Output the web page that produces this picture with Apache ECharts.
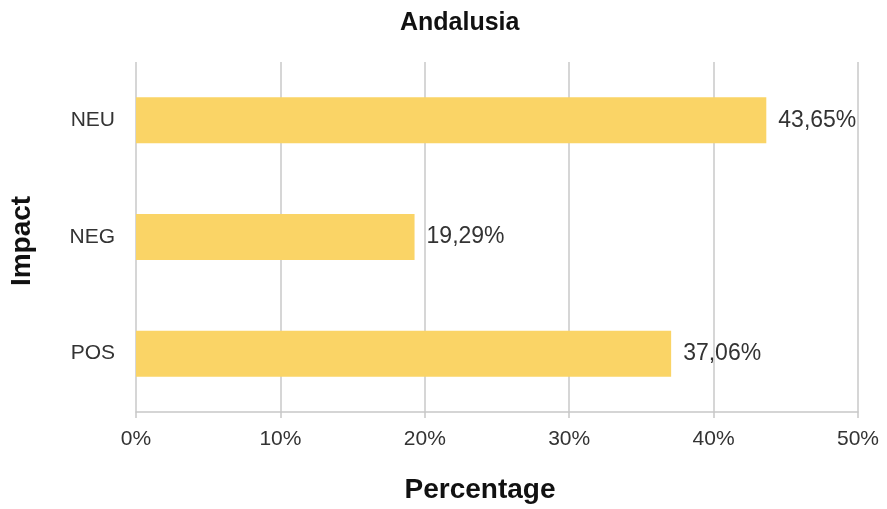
<!DOCTYPE html>
<html>
<head>
<meta charset="utf-8">
<script src="https://cdn.jsdelivr.net/npm/echarts@6/dist/echarts.min.js"></script>
<style>
  html, body { margin: 0; padding: 0; background: #fff; }
  #chart { width: 887px; height: 509px; }
</style>
</head>
<body>
<div id="chart"></div>
<script>
const categories = ['POS', 'NEG', 'NEU'];
const percentages = [37.06, 19.29, 43.65];
const xTicks = [0, 10, 20, 30, 40, 50];

const chart = echarts.init(document.getElementById('chart'));
chart.setOption({
  animation: false,
  textStyle: { fontFamily: 'Liberation Sans, Arial, sans-serif' },
  title: {
    text: 'Andalusia',
    left: 395,
    top: 6,
    textStyle: { fontSize: 25, fontWeight: 'bold', color: '#111' }
  },
  grid: { left: 136, right: 29, top: 62, bottom: 97, containLabel: false, outerBoundsMode: 'none' },
  xAxis: {
    type: 'value',
    min: xTicks[0],
    max: xTicks[xTicks.length - 1],
    interval: 10,
    name: 'Percentage',
    nameLocation: 'middle',
    nameGap: 64,
    nameTextStyle: { fontSize: 28, fontWeight: 'bold', color: '#111', padding: [0, 34, 0, 0] },
    axisLine: { show: true, lineStyle: { color: '#c8c8c8', width: 1.5 } },
    axisTick: { show: true, length: 6, lineStyle: { color: '#c8c8c8', width: 1.5 } },
    axisLabel: { formatter: '{value}%', fontSize: 21, color: '#333', margin: 17 },
    splitLine: { show: true, lineStyle: { color: '#c8c8c8', width: 1.5 } }
  },
  yAxis: {
    type: 'category',
    data: categories,
    name: 'Impact',
    nameLocation: 'middle',
    nameGap: 100,
    nameRotate: 90,
    nameTextStyle: { fontSize: 28, fontWeight: 'bold', color: '#111', padding: [0, 8, 0, 0] },
    axisLine: { show: false },
    axisTick: { show: false },
    axisLabel: { fontSize: 21, color: '#333', margin: 21 }
  },
  series: [{
    type: 'bar',
    data: percentages,
    barWidth: 46,
    itemStyle: { color: '#fad466' },
    label: {
      show: true,
      position: 'right',
      distance: 12,
      fontSize: 23,
      color: '#333',
      formatter: p => p.value.toFixed(2).replace('.', ',') + '%'
    }
  }]
});
</script>
</body>
</html>
